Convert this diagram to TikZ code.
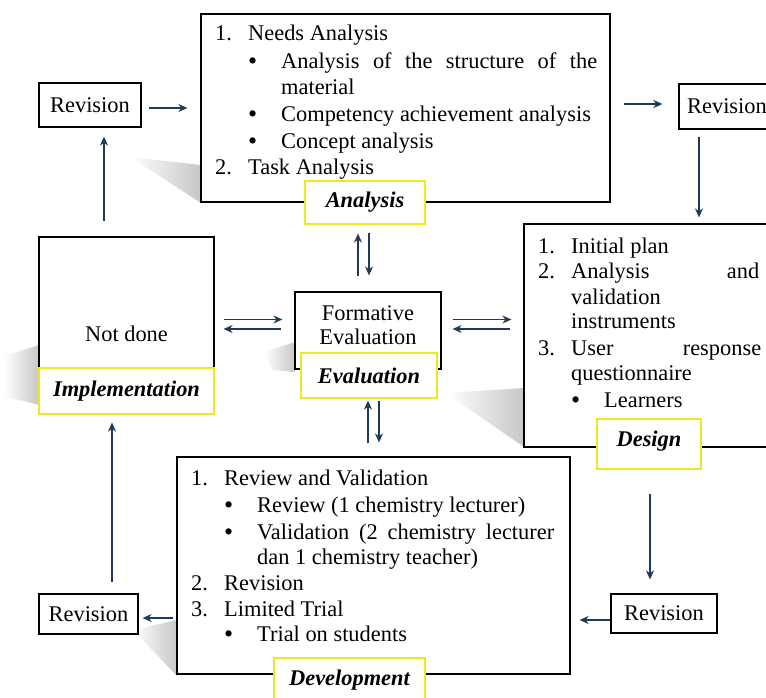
\documentclass[tikz,border=0pt]{standalone}
\usepackage{fontspec}
\setmainfont{Liberation Serif}
\usetikzlibrary{positioning,arrows.meta}
\definecolor{navy}{HTML}{1F3B5C}
\definecolor{labyellow}{HTML}{EEE81E}
\newcommand{\nr}[1]{\makebox[33pt][l]{#1}}
\newcommand{\bl}{\makebox[33pt][l]{\smash{\raisebox{-1.5pt}{\fontsize{26}{26}\selectfont\textbullet}}}}

\begin{document}
\begin{tikzpicture}[
          x=1pt,y=-1pt,
          font=\fontsize{22.4}{26.5}\selectfont,
          box/.style={draw,line width=1.2pt,inner sep=0pt},
          lab/.style={draw=labyellow,fill=white,line width=1.2pt,inner sep=0pt,
            font=\fontsize{22.4}{26.5}\selectfont\bfseries\itshape},
          ln/.style={anchor=base west,inner sep=0pt},
          arr/.style={draw=navy,line width=1.3pt,-{Stealth[length=9pt,width=8pt]}},
          shd/.style={left color=white,right color=black!22,draw=none}
            ]
    \useasboundingbox (0,0) rectangle (766,697);
    \clip (0,0) rectangle (766,697);
    % shadows
    \shade[shd] (130,157) -- (201,165) -- (201,203) -- cycle;
    \shade[shd] (4,356) -- (39,345) -- (39,405) -- (4,396) -- cycle;
    \shade[shd] (264,352) -- (295,342) -- (295,372) -- (272,370) -- cycle;
    \shade[shd] (446,393) -- (524,388) -- (524,447) -- cycle;
    \shade[shd] (133,630) -- (177,620) -- (177,676) -- cycle;
    % boxes
    \node[box,minimum width=409pt,minimum height=188pt] (ana) at (405.5,108) {};
    \node[box,minimum width=102pt,minimum height=44pt] (revtl) at (90,105) {Revision};
    \node[box,minimum width=96pt,minimum height=45pt] (revtr) at (727,106.5) {Revision};
    \node[box,minimum width=256pt,minimum height=223pt] (des) at (652,335.5) {};
    \node[box,minimum width=175pt,minimum height=177pt] (nd) at (126.5,325.5) {};
    \node[box,minimum width=146pt,minimum height=77pt] (form) at (368,330.5) {};
    \node[box,minimum width=393pt,minimum height=217pt] (dev) at (373.5,565.5) {};
    \node[box,minimum width=99pt,minimum height=40pt] (revbl) at (88.5,614) {Revision};
    \node[box,minimum width=106pt,minimum height=39pt] (revbr) at (664,613.5) {Revision};
    % labels
    \node[lab,minimum width=120pt,minimum height=43pt] (analab) at (365,202.5) {Analysis};
    \node[lab,minimum width=104pt,minimum height=50pt,text depth=11pt] (deslab) at (649,444) {Design};
    \node[lab,minimum width=136pt,minimum height=45pt] (evallab) at (369,375.5) {Evaluation};
    \node[lab,minimum width=175pt,minimum height=46pt] (implab) at (126.5,391) {Implementation};
    \node[lab,minimum width=151pt,minimum height=44pt] (devlab) at (349.5,680) {Development};
    % texts
    \node (ndtxt) at (126.5,334) {Not done};
    \node[align=center,font=\fontsize{22.4}{24}\selectfont] (formtxt) at (368,325) {Formative\\Evaluation};
    \node[ln] (a1) at (215,40) {\nr{1.}Needs Analysis};
    \node[ln] (a2) at (248,68) {\bl\makebox[316pt][s]{Analysis of the structure of the}};
    \node[ln] (a3) at (281,94) {material};
    \node[ln] (a4) at (248,121) {\bl Competency achievement analysis};
    \node[ln] (a5) at (248,148) {\bl Concept analysis};
    \node[ln] (a6) at (215,174) {\nr{2.}Task Analysis};
    \node[ln] (d1) at (538,253) {\nr{1.}Initial plan};
    \node[ln] (d2) at (538,278) {\nr{2.}\makebox[188pt][s]{Analysis and}};
    \node[ln] (d3) at (571,304) {validation};
    \node[ln] (d4) at (571,328) {instruments};
    \node[ln] (d5) at (538,355) {\nr{3.}\makebox[190pt][s]{User response}};
    \node[ln] (d6) at (571,380) {questionnaire};
    \node[ln] (d7) at (571,407) {\bl Learners};
    \node[ln] (v1) at (191,485) {\nr{1.}Review and Validation};
    \node[ln] (v2) at (224,512) {\bl Review (1 chemistry lecturer)};
    \node[ln] (v3) at (224,539) {\bl\makebox[297pt][s]{Validation (2 chemistry lecturer}};
    \node[ln] (v4) at (257,564) {dan 1 chemistry teacher)};
    \node[ln] (v5) at (191,590) {\nr{2.}Revision};
    \node[ln] (v6) at (191,616) {\nr{3.}Limited Trial};
    \node[ln] (v7) at (224,641) {\bl Trial on students};
    % arrows
    \draw[arr,shorten <=7pt,shorten >=13pt] ([yshift=-3pt]revtl.east) -- ([yshift=-3pt]revtl.east -| ana.west);
    \draw[arr,shorten <=13pt,shorten >=16pt] ([yshift=4pt]ana.east) -- ([yshift=4pt]ana.east -| revtr.west);
    \draw[arr,shorten <=7pt,shorten >=6pt] ([xshift=-28pt]revtr.south) -- ([xshift=-28pt]revtr.south |- des.north);
    \draw[arr,shorten <=24pt,shorten >=14pt] ([xshift=1pt]deslab.south) -- ([xshift=1pt]deslab.south |- revbr.north);
    \draw[arr,shorten >=9pt] ([yshift=-6.5pt]revbr.west) -- ([yshift=-6.5pt]revbr.west -| dev.east);
    \draw[arr,shorten <=3pt,shorten >=4pt] ([yshift=-4pt]revbl.east -| dev.west) -- ([yshift=-4pt]revbl.east);
    \draw[arr,shorten <=11pt,shorten >=8pt] ([xshift=23.5pt]revbl.north) -- ([xshift=23.5pt]revbl.north |- implab.south);
    \draw[arr,shorten <=15pt,shorten >=9pt] ([xshift=14pt]revtl.south |- nd.north) -- ([xshift=14pt]revtl.south);
    \draw[arr,shorten <=9pt,shorten >=12pt] ([yshift=11pt]form.west -| nd.east) -- ([yshift=11pt]form.west);
    \draw[arr,shorten <=13pt,shorten >=9pt] ([yshift=1.5pt]form.west) -- ([yshift=1.5pt]form.west -| nd.east);
    \draw[arr,shorten <=11pt,shorten >=12pt] ([yshift=11pt]form.east) -- ([yshift=11pt]form.east -| des.west);
    \draw[arr,shorten <=13pt,shorten >=11pt] ([yshift=1.5pt]form.east -| des.west) -- ([yshift=1.5pt]form.east);
    \draw[arr,shorten <=15pt,shorten >=9pt] ([xshift=-10pt]form.north) -- ([xshift=-10pt]form.north |- analab.south);
    \draw[arr,shorten <=8pt,shorten >=16pt] ([xshift=1pt]form.north |- analab.south) -- ([xshift=1pt]form.north);
    \draw[arr,shorten <=13pt,shorten >=2pt] ([xshift=-1pt]evallab.south |- dev.north) -- ([xshift=-1pt]evallab.south);
    \draw[arr,shorten <=2pt,shorten >=14pt] ([xshift=10pt]evallab.south) -- ([xshift=10pt]evallab.south |- dev.north);
\end{tikzpicture}
\end{document}
